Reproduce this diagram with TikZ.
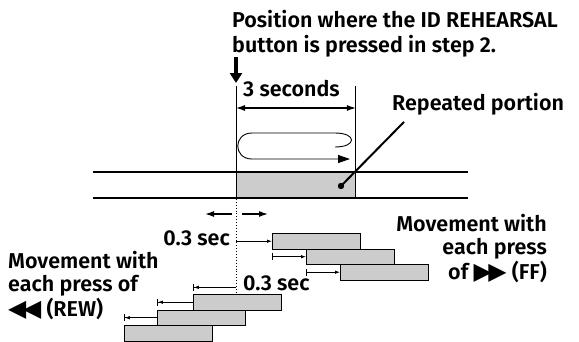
\documentclass[tikz,border=0pt]{standalone}
\usepackage{fontspec}
\setmainfont{Fira Sans}[BoldFont={Fira Sans SemiBold}]
\newfontfamily\symfont{DejaVu Sans}[Scale=1.1]
\usetikzlibrary{arrows.meta}

\newcommand\ffmark{{\symfont\char"25B6\kern-0.14em\char"25B6}}
\newcommand\rewmark{{\symfont\char"25C0\kern-0.14em\char"25C0}}

\begin{document}
\begin{tikzpicture}[
  x=1pt, y=-1pt,
  lbl/.style={inner sep=0pt, font=\bfseries\fontsize{21.5}{23}\selectfont},
  bar/.style={draw, fill=gray!40, line width=0.9pt, anchor=north west, inner sep=0pt, minimum width=88pt, minimum height=15.5pt},
  track/.style={line width=1.1pt},
  dimarr/.style={{Latex[length=9pt,width=6pt]}-{Latex[length=9pt,width=6pt]}, line width=1.1pt},
  movearr/.style={-{Latex[length=9pt,width=6pt]}, line width=1.3pt},
  ffarr/.style={{Bar[width=7pt]}-{Latex[length=5pt,width=3.5pt]}, line width=0.8pt},
  rewarr/.style={-{Latex[length=5pt,width=3.5pt] Bar[width=7pt]}, line width=0.8pt}
]
\useasboundingbox (0,0) rectangle (579,341);

% labels
\node[lbl, font=\bfseries\fontsize{21.5}{25}\selectfont, align=left, anchor=base west] (title) at (232,52) {Position where the ID REHEARSAL\\button is pressed in step 2.};
\node[lbl, anchor=base west] (secs) at (243,96) {3 seconds};
\node[lbl, anchor=base west] (rep) at (392,110) {Repeated portion};

% repeated portion on the tape
\node[draw, fill=gray!40, line width=0.9pt, anchor=north west, inner sep=0pt, minimum width=119pt, minimum height=26pt] (seg) at (236,172) {};
\draw[track] (93,172) -- (468,172);
\draw[track] (93,198) -- (468,198);
\draw[line width=0.9pt] (seg.north west) -- ++(0,-86);
\draw[line width=0.9pt] (seg.north east) -- ++(0,-86);
\draw[dimarr] ([yshift=64pt]seg.north west) -- ([yshift=64pt]seg.north east);
\draw[-{Triangle[length=10pt,width=12pt]}, line width=3.4pt] (236,57) -- (236,83);

% loop
\draw[-{Triangle[length=12pt,width=8pt]}, line width=0.9pt] (335,147) .. controls (357,147) and (357,133) .. (335,133) -- (252,133) .. controls (233,133) and (233,159) .. (252,159) -- (350,159);

% leader
\coordinate (spot) at (341,186);
\fill (spot) circle (3.2pt);
\draw[line width=2pt] ([shift={(12,7)}]rep.south west) -- (spot);

% start position
\draw[dotted, line width=0.9pt] (seg.south west) -- ([yshift=-95pt]seg.south west);
\draw[movearr] (232,214) -- (205,214);
\draw[movearr] (242,214) -- (268,214);

% FF
\node[lbl, anchor=base east] (sec1) at (230,245) {0.3 sec};
\node[bar] (ff1) at (272,233) {};
\node[bar] (ff2) at (306,248.5) {};
\node[bar] (ff3) at (340,264) {};
\draw[-{Latex[length=5pt,width=3.5pt]}, line width=0.8pt] (seg.south west |- ff1.west) -- (ff1.west);
\draw[ffarr] (ff1.west |- ff2.west) -- (ff2.west);
\draw[ffarr] (ff2.west |- ff3.west) -- (ff3.west);
\node[lbl, align=right, anchor=base east] (ffnote) at (547,279) {Movement with\\each press\\of \ffmark{} (FF)};

% REW
\node[lbl, anchor=base west] (sec2) at (243,290) {0.3 sec};
\node[bar] (rew1) at (193,294) {};
\node[bar] (rew2) at (157,309.5) {};
\node[bar] (rew3) at (124,325) {};
\draw[rewarr] (seg.south west |- sec2.mid west) -- (rew1.west |- sec2.mid west);
\draw[rewarr] (rew1.west) -- (rew2.west |- rew1.west);
\draw[rewarr] (rew2.west) -- (rew3.west |- rew2.west);
\node[lbl, align=left, anchor=base west] (rewnote) at (8,316) {Movement with\\each press of\\\rewmark{} (REW)};
\end{tikzpicture}
\end{document}
